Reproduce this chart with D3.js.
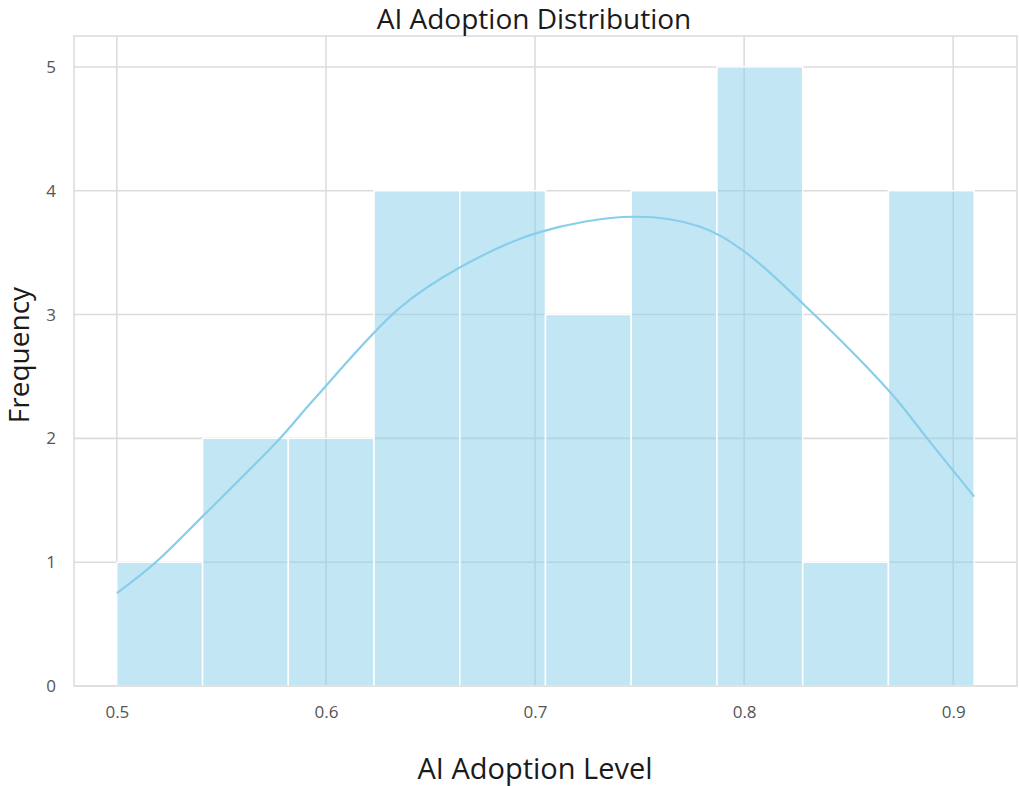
<!DOCTYPE html>
<html>
<head>
<meta charset="utf-8">
<script src="https://cdn.jsdelivr.net/npm/d3@7"></script>
<style>
  html, body { margin: 0; padding: 0; background: #fff; }
  svg { display: block; }
</style>
</head>
<body>
<svg id="chart" width="1019" height="786"></svg>
<script>
// Data
const binEdges = [0.5, 0.541, 0.582, 0.623, 0.664, 0.705, 0.746, 0.787, 0.828, 0.869, 0.91];
const binCounts = [1, 2, 2, 4, 4, 3, 4, 5, 1, 4];
const kdeX = [0.5, 0.518, 0.541, 0.578, 0.594, 0.635, 0.664, 0.701, 0.747, 0.779, 0.800, 0.828, 0.870, 0.888, 0.91];
const kdeY = [0.75, 0.99, 1.37, 2.00, 2.31, 3.05, 3.38, 3.66, 3.79, 3.71, 3.51, 3.09, 2.37, 1.99, 1.53];
const xTicks = [0.5, 0.6, 0.7, 0.8, 0.9];
const yTicks = [0, 1, 2, 3, 4, 5];
const titleText = "AI Adoption Distribution";
const xLabel = "AI Adoption Level";
const yLabel = "Frequency";

(function () {
const svg = d3.select("#chart");
const pl = 74, pr = 1017, pt = 36, pb = 686;

const span = binEdges[binEdges.length - 1] - binEdges[0];
const x = d3.scaleLinear()
  .domain([binEdges[0] - span * 0.05, binEdges[binEdges.length - 1] + span * 0.05])
  .range([pl, pr]);
const y = d3.scaleLinear().domain([0, 5.25]).range([pb, pt]);

const gridColor = "#dcdcdc";

// grid
const g = svg.append("g");
g.selectAll("line.vg").data(xTicks).enter().append("line")
  .attr("x1", d => x(d)).attr("x2", d => x(d))
  .attr("y1", pt).attr("y2", pb)
  .attr("stroke", gridColor).attr("stroke-width", 1.6);
g.selectAll("line.hg").data(yTicks).enter().append("line")
  .attr("x1", pl).attr("x2", pr)
  .attr("y1", d => y(d)).attr("y2", d => y(d))
  .attr("stroke", gridColor).attr("stroke-width", 1.6);

// bars
const bins = binCounts.map((c, i) => ({ x0: binEdges[i], x1: binEdges[i + 1], c }));
svg.append("g").selectAll("rect").data(bins).enter().append("rect")
  .attr("x", d => x(d.x0))
  .attr("width", d => x(d.x1) - x(d.x0))
  .attr("y", d => y(d.c))
  .attr("height", d => y(0) - y(d.c))
  .attr("fill", "rgba(135,206,235,0.5)")
  .attr("stroke", "#ffffff")
  .attr("stroke-width", 1.5);

// kde line
const line = d3.line().x(d => x(d[0])).y(d => y(d[1])).curve(d3.curveCatmullRom.alpha(0.5));
svg.append("path")
  .datum(kdeX.map((v, i) => [v, kdeY[i]]))
  .attr("d", line)
  .attr("fill", "none")
  .attr("stroke", "#87ceeb")
  .attr("stroke-width", 2.2);

// frame
svg.append("rect")
  .attr("x", pl).attr("y", pt)
  .attr("width", pr - pl).attr("height", pb - pt)
  .attr("fill", "none").attr("stroke", gridColor).attr("stroke-width", 1.6);

// axes (tick labels only)
const tickFont = "'Open Sans', sans-serif";
const xAxis = d3.axisBottom(x).tickValues(xTicks).tickSize(0).tickPadding(20).tickFormat(d3.format(".1f"));
const xa = svg.append("g").attr("transform", `translate(0,${pb})`).call(xAxis);
xa.select(".domain").remove();
xa.selectAll("text").attr("font-family", tickFont).attr("font-size", 17).attr("fill", "#555");

const yAxis = d3.axisLeft(y).tickValues(yTicks).tickSize(0).tickPadding(18).tickFormat(d3.format("d"));
const ya = svg.append("g").attr("transform", `translate(${pl},0)`).call(yAxis);
ya.select(".domain").remove();
ya.selectAll("text").attr("font-family", tickFont).attr("font-size", 17).attr("fill", "#555");

// title and labels
const labFont = "'Open Sans', sans-serif";
svg.append("text").attr("x", 534).attr("y", 29).attr("text-anchor", "middle")
  .attr("font-family", labFont).attr("font-size", 28).attr("fill", "#1a1a1a")
  .text(titleText);
svg.append("text").attr("x", 535).attr("y", 779).attr("text-anchor", "middle")
  .attr("font-family", labFont).attr("font-size", 29).attr("fill", "#1a1a1a")
  .text(xLabel);
svg.append("text").attr("transform", "translate(29,355) rotate(-90)").attr("text-anchor", "middle")
  .attr("font-family", labFont).attr("font-size", 28).attr("fill", "#1a1a1a")
  .text(yLabel);
})();
</script>
</body>
</html>
